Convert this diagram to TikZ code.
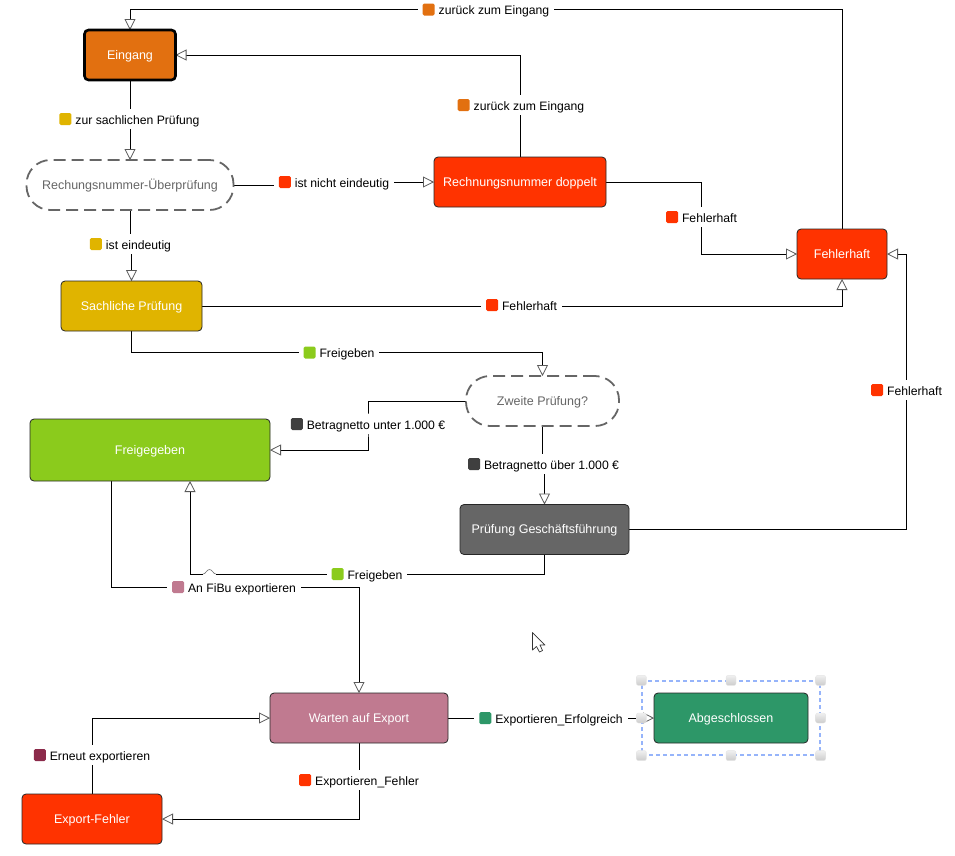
\documentclass[tikz,border=0pt]{standalone}
\usepackage{fontspec}
\setmainfont{Liberation Sans}
\usetikzlibrary{arrows.meta, positioning, calc, backgrounds}
\definecolor{orangecolor}{RGB}{226, 112, 16}
\definecolor{yellowcolor}{RGB}{224, 180, 0}
\definecolor{redcolor}{RGB}{255, 51, 0}
\definecolor{limecolor}{RGB}{139, 203, 28}
\definecolor{darkcolor}{RGB}{102, 102, 102}
\definecolor{markcolor}{RGB}{63, 63, 63}
\definecolor{mauvecolor}{RGB}{192, 122, 144}
\definecolor{winecolor}{RGB}{139, 42, 74}
\definecolor{tealcolor}{RGB}{45, 151, 104}
\definecolor{selectcolor}{RGB}{150, 180, 250}
\newcommand{\statemark}[1]{\tikz[baseline=1pt]\fill[#1, rounded corners=1.5pt] (0pt,0pt) rectangle (12pt,12pt);\hspace{4pt}}

\begin{document}
\begin{tikzpicture}[
    x=1pt, y=-1pt,
    box/.style={
        rectangle,
        rounded corners=4pt,
        draw=black!85,
        line width=0.8pt,
        text=white,
        inner sep=0pt,
        outer sep=0pt,
        minimum height=50pt,
        text height=8.5pt,
        text depth=0.5pt,
        align=center,
        font=\fontsize{12.5}{14}\selectfont
    },
    checkbox/.style={
        rectangle,
        rounded corners=24pt,
        draw=darkcolor,
        line width=1.8pt,
        dash pattern=on 12pt off 6pt,
        fill=white,
        text=darkcolor,
        inner sep=0pt,
        outer sep=0pt,
        minimum height=50pt,
        text height=8.5pt,
        text depth=0.5pt,
        align=center,
        font=\fontsize{12.5}{14}\selectfont
    },
    flow/.style={
        line width=0.8pt,
        draw=black,
        -{Triangle[fill=white, color=black!65, length=11pt, width=11pt, line width=0.8pt]}
    },
    plainline/.style={
        line width=0.8pt,
        draw=black
    },
    hopline/.style={
        line width=0.6pt,
        draw=black!55
    },
    edgelabel/.style={
        fill=white,
        text=black,
        inner xsep=5pt,
        inner ysep=0pt,
        minimum height=20pt,
        text height=11pt,
        text depth=1pt,
        font=\fontsize{12.2}{14}\selectfont
    },
    selection/.style={
        draw=selectcolor,
        line width=1.2pt,
        dash pattern=on 4pt off 3pt,
        inner sep=0pt,
        minimum width=178pt,
        minimum height=74pt
    },
    handle/.style={
        rectangle,
        rounded corners=2pt,
        draw=black!10,
        top color=black!6,
        bottom color=black!20,
        inner sep=0pt,
        minimum size=10pt
    }
]

\useasboundingbox (0,0) rectangle (955,855);

% State nodes
\node[box, fill=orangecolor, draw=black, line width=2.6pt, minimum width=91pt] (eingang) at (130,55) {Eingang};
\node[checkbox, minimum width=207pt] (nummercheck) at (130,185) {Rechungsnummer-Überprüfung};
\node[box, fill=yellowcolor, minimum width=141pt] (sachlich) at (131.5,306) {Sachliche Prüfung};
\node[box, fill=redcolor, minimum width=172pt] (doppelt) at (520,182) {Rechnungsnummer doppelt};
\node[box, fill=redcolor, minimum width=90pt] (fehlerhaft) at (842,254) {Fehlerhaft};
\node[checkbox, minimum width=153pt] (zweite) at (542.5,401) {Zweite Prüfung?};
\node[box, fill=limecolor, minimum width=240pt, minimum height=62pt] (freigegeben) at (150,450) {Freigegeben};
\node[box, fill=darkcolor, minimum width=169pt] (fuehrung) at (544.5,529.5) {Prüfung Geschäftsführung};
\node[box, fill=mauvecolor, minimum width=178pt] (warten) at (359,718) {Warten auf Export};
\node[box, fill=tealcolor, minimum width=154pt] (abgeschlossen) at (731,718) {Abgeschlossen};
\node[box, fill=redcolor, minimum width=140pt] (exportfehler) at (92,819) {Export-Fehler};

% Edge labels
\node[edgelabel] (label1) at (486,9.5) {\statemark{orangecolor}zurück zum Eingang};
\node[edgelabel] (label2) at (521,105) {\statemark{orangecolor}zurück zum Eingang};
\node[edgelabel] (label3) at (129.5,119) {\statemark{yellowcolor}zur sachlichen Prüfung};
\node[edgelabel] (label4) at (130.5,244) {\statemark{yellowcolor}ist eindeutig};
\node[edgelabel] (label5) at (334,182) {\statemark{redcolor}ist nicht eindeutig};
\node[edgelabel] (label6) at (701.5,217) {\statemark{redcolor}Fehlerhaft};
\node[edgelabel] (label7) at (521.5,305) {\statemark{redcolor}Fehlerhaft};
\node[edgelabel] (label8) at (339,352.5) {\statemark{limecolor}Freigeben};
\node[edgelabel] (label9) at (368,424) {\statemark{markcolor}Betragnetto unter 1.000 €};
\node[edgelabel] (label10) at (543.5,464) {\statemark{markcolor}Betragnetto über 1.000 €};
\node[edgelabel] (label11) at (906.5,390) {\statemark{redcolor}Fehlerhaft};
\node[edgelabel] (label12) at (367,574) {\statemark{limecolor}Freigeben};
\node[edgelabel] (label13) at (234,587) {\statemark{mauvecolor}An FiBu exportieren};
\node[edgelabel] (label14) at (359,780) {\statemark{redcolor}Exportieren\_Fehler};
\node[edgelabel] (label15) at (92,755) {\statemark{winecolor}Erneut exportieren};
\node[edgelabel] (label16) at (551,718) {\statemark{tealcolor}Exportieren\_Erfolgreich};

% Free ends of the connectors on Freigegeben, and the small hop
\coordinate (freileft) at (190,481);
\coordinate (freiright) at (111,481);
\coordinate (hopstart) at (216,574);
\coordinate (hoptop) at (209.5,569.5);
\coordinate (hopend) at (203,574);

% Connectors stay behind the labels
\begin{scope}[on background layer]
\draw[flow] (fehlerhaft.north) |- (label1.center) -| (eingang.north);
\draw[flow] (doppelt.north) |- (eingang.east);
\draw[flow] (eingang.south) -- (nummercheck.north);
\draw[flow] (nummercheck.south) |- (label4.center) -| (sachlich.north);
\draw[flow] (nummercheck.east) -| (label5.center) |- (doppelt.west);
\draw[flow] (doppelt.east) -| (label6.center) |- (fehlerhaft.west);
\draw[flow] (sachlich.east) -| (fehlerhaft.south);
\draw[flow] (sachlich.south) |- (label8.center) -| (zweite.north);
\draw[flow] (zweite.west) -| (label9.center) |- (freigegeben.east);
\draw[flow] (zweite.south) |- (label10.center) -| (fuehrung.north);
\draw[flow] (fuehrung.east) -| (label11.center) |- (fehlerhaft.east);
\draw[plainline] (fuehrung.south) |- (hopstart);
\draw[hopline] (hopstart) .. controls +(-3,0) and +(3,0) .. (hoptop) .. controls +(-3,0) and +(3,0) .. (hopend);
\draw[flow] (hopend) -| (freileft);
\draw[flow] (freiright) |- (label13.center) -| (warten.north);
\draw[flow] (warten.south) |- (exportfehler.east);
\draw[flow] (exportfehler.north) |- (warten.west);
\draw[flow] (warten.east) -- (abgeschlossen.west);
\end{scope}

% Selection frame round Abgeschlossen
\node[selection] (selbox) at (731,718) {};
\foreach \anc [count=\i] in {north west, north, north east, west, east, south west, south, south east} {
    \node[handle] (handle\i) at (selbox.\anc) {};
}

% Mouse pointer
\draw[fill=white, draw=black!80, line width=0.7pt, line join=round]
    (532.5,632.5) -- (532.5,650) -- (536.5,646.5) -- (539.5,652) -- (542.5,650.5) -- (540,645) -- (545,645) -- cycle;

\end{tikzpicture}
\end{document}
